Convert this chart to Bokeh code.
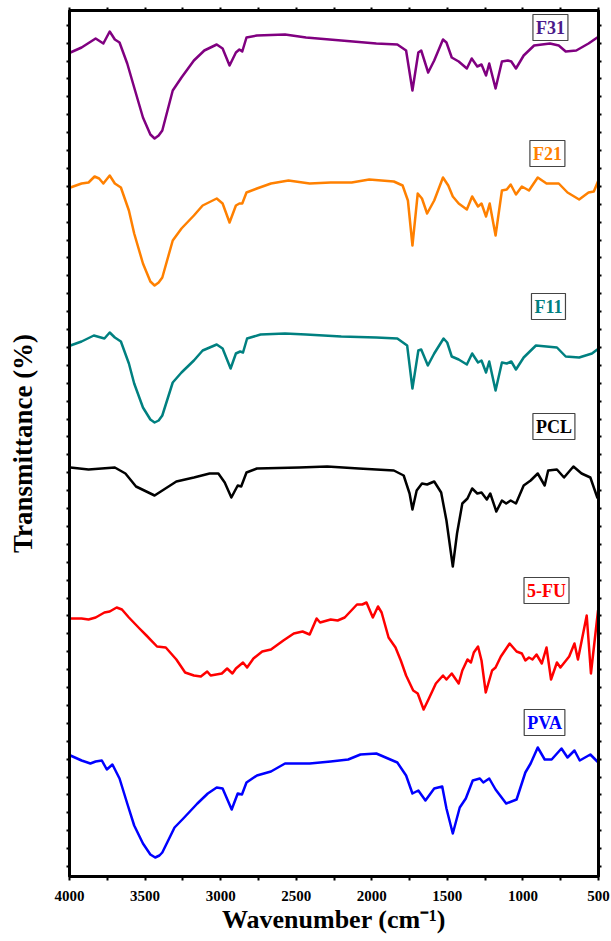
from bokeh.plotting import figure
from bokeh.models import Range1d, FixedTicker, LinearAxis, Label
from bokeh.embed import file_html
from bokeh.resources import INLINE

# FTIR spectra, stacked with vertical offsets (transmittance, arbitrary units)
wn_f31 = [3994, 3920, 3827, 3776, 3734, 3700, 3669, 3618, 3572, 3514, 3465, 3437, 3410, 3386,
          3317, 3259, 3177, 3108, 3026, 2987, 2941, 2899, 2876, 2857, 2829, 2760, 2574, 2435,
          2202, 1970, 1831, 1773, 1731, 1692, 1673, 1627, 1587, 1529, 1506, 1471, 1425, 1371,
          1339, 1302, 1274, 1244, 1223, 1181, 1139, 1100, 1077, 1046, 995, 926, 821, 763, 717,
          647, 566, 508]
t_f31 = [824, 829, 838, 833, 845, 837, 834, 813, 789, 759, 742, 738, 741, 746,
         786, 799, 816, 826, 832, 828, 811, 824, 827, 825, 839, 841, 842, 839,
         836, 833, 832, 826, 786, 824, 826, 804, 816, 837, 834, 819, 815, 808,
         818, 810, 812, 801, 813, 788, 815, 816, 815, 808, 821, 831, 833, 831, 825,
         826, 833, 839]

wn_f21 = [3994, 3920, 3874, 3834, 3804, 3776, 3734, 3700, 3660, 3607, 3572, 3514, 3465, 3437,
          3410, 3386, 3317, 3259, 3177, 3119, 3026, 2987, 2941, 2899, 2876, 2857, 2829, 2760,
          2667, 2551, 2411, 2272, 2133, 2017, 1854, 1796, 1761, 1731, 1696, 1668, 1634, 1587,
          1529, 1494, 1464, 1425, 1371, 1336, 1297, 1274, 1244, 1220, 1181, 1139, 1107, 1081,
          1046, 1007, 960, 902, 844, 763, 705, 628, 566, 531, 501]
t_f21 = [689, 693, 694, 700, 698, 693, 701, 693, 689, 666, 643, 613, 595, 591,
         594, 599, 636, 648, 661, 671, 678, 673, 654, 671, 673, 673, 684, 688,
         693, 696, 693, 694, 694, 697, 695, 691, 676, 631, 683, 678, 663, 676,
         699, 691, 680, 673, 667, 680, 670, 673, 660, 673, 641, 686, 687, 692,
         682, 690, 686, 699, 693, 693, 684, 677, 684, 685, 696]

wn_f11 = [3994, 3920, 3839, 3769, 3734, 3700, 3660, 3607, 3572, 3514, 3465, 3437, 3410, 3386,
          3317, 3259, 3177, 3119, 3026, 2987, 2934, 2899, 2871, 2852, 2825, 2736, 2574, 2435,
          2202, 1970, 1831, 1766, 1731, 1692, 1673, 1629, 1587, 1525, 1501, 1471, 1425, 1371,
          1336, 1297, 1274, 1244, 1223, 1181, 1139, 1107, 1077, 1046, 995, 914, 775, 717, 628,
          543, 508]
t_f11 = [531, 535, 541, 538, 544, 539, 535, 513, 493, 469, 457, 454, 456, 461,
         494, 504, 516, 526, 532, 528, 508, 523, 525, 524, 538, 542, 543, 542,
         540, 539, 538, 531, 488, 526, 527, 511, 523, 538, 534, 520, 517, 512,
         523, 514, 516, 504, 515, 486, 514, 513, 515, 507, 519, 531, 529, 520, 519,
         523, 527]

wn_pcl = [3994, 3874, 3700, 3630, 3560, 3437, 3293, 3177, 3073, 3015, 2973, 2929, 2887, 2864,
          2829, 2760, 2481, 2295, 2086, 1854, 1789, 1750, 1731, 1703, 1668, 1634, 1587, 1541,
          1506, 1464, 1436, 1401, 1367, 1336, 1302, 1274, 1239, 1216, 1176, 1139, 1111, 1081,
          1046, 995, 949, 902, 856, 833, 775, 728, 666, 612, 554, 508]
t_pcl = [409, 407, 409, 403, 390, 381, 395, 399, 403, 403, 394, 379, 391, 390,
         404, 408, 409, 410, 408, 406, 401, 383, 367, 386, 393, 392, 395, 384,
         356, 310, 343, 373, 378, 388, 383, 384, 377, 383, 365, 376, 373, 376,
         373, 391, 396, 403, 391, 406, 407, 399, 410, 403, 399, 379]

wn_5fu = [3994, 3920, 3874, 3827, 3769, 3734, 3688, 3653, 3607, 3537, 3491, 3421, 3363, 3293,
          3235, 3177, 3131, 3089, 3066, 2992, 2957, 2922, 2899, 2852, 2825, 2783, 2725, 2667,
          2585, 2516, 2458, 2411, 2365, 2342, 2272, 2226, 2179, 2098, 2063, 2035, 1993, 1959,
          1935, 1889, 1843, 1808, 1773, 1726, 1696, 1657, 1622, 1576, 1529, 1506, 1471, 1425,
          1401, 1367, 1344, 1325, 1297, 1274, 1246, 1204, 1181, 1146, 1088, 1042, 1007, 984,
          960, 937, 910, 875, 844, 814, 775, 752, 694, 659, 636, 578, 550, 503]
t_5fu = [258, 258, 257, 259, 264, 265, 269, 267, 259, 248, 241, 230, 229, 217,
         204, 201, 200, 205, 201, 203, 208, 203, 208, 214, 209, 218, 225, 227,
         236, 243, 245, 242, 258, 254, 257, 256, 259, 272, 272, 274, 259, 270,
         264, 239, 229, 216, 201, 186, 183, 167, 178, 193, 201, 197, 203, 193,
         206, 217, 214, 224, 230, 216, 184, 206, 209, 220, 233, 225, 223, 216,
         219, 217, 222, 213, 229, 197, 214, 209, 220, 233, 217, 261, 203, 266]

wn_pva = [3994, 3920, 3862, 3827, 3786, 3753, 3716, 3669, 3618, 3572, 3514, 3465, 3433, 3405,
          3386, 3305, 3247, 3154, 3085, 3026, 2987, 2927, 2887, 2859, 2829, 2760, 2667, 2574,
          2458, 2411, 2272, 2156, 2075, 1970, 1831, 1773, 1731, 1692, 1645, 1587, 1534, 1506,
          1464, 1418, 1378, 1332, 1285, 1262, 1223, 1181, 1111, 1042, 984, 949, 902, 856, 810,
          745, 705, 659, 624, 554, 508]
t_pva = [121, 116, 113, 115, 116, 107, 112, 98, 73, 51, 33, 22, 19, 21,
         24, 49, 58, 73, 83, 89, 88, 67, 83, 82, 94, 101, 105, 113,
         113, 113, 115, 117, 122, 123, 114, 101, 83, 86, 76, 88, 90, 68,
         43, 69, 78, 96, 98, 94, 98, 87, 73, 77, 104, 113, 129, 117, 117,
         128, 119, 126, 116, 122, 115]

names = ["F31", "F21", "F11", "PCL", "5-FU", "PVA"]
line_colors = ["#800080", "#FF8000", "#008080", "#000000", "#FF0000", "#0000FF"]
text_colors = ["#4B1A8A", "#FF8000", "#008080", "#000000", "#FF0000", "#0000FF"]
label_wn = [818, 838, 831, 795, 844, 857]
label_t = [849, 723, 570, 450, 286, 154]

x_major = [4000, 3500, 3000, 2500, 2000, 1500, 1000, 500]
x_minor = [3750, 3250, 2750, 2250, 1750, 1250, 750]

SERIF = "Liberation Serif"

p = figure(width=611, height=941, x_range=Range1d(4000, 500), y_range=Range1d(0, 866),
           output_backend="svg", toolbar_location=None,
           min_border_left=69, min_border_right=13, min_border_top=10, min_border_bottom=65)
p.background_fill_color = "white"
p.border_fill_color = "white"
p.grid.visible = False
p.outline_line_color = "black"
p.outline_line_width = 3

x_ticker = FixedTicker(ticks=x_major, minor_ticks=x_minor)
y_ticker = FixedTicker(ticks=[851.3 - 17.9 * k for k in range(48)])

# bottom axis
xa = p.xaxis[0]
xa.ticker = x_ticker
xa.axis_line_width = 3
xa.major_tick_in = 0
xa.major_tick_out = 4
xa.minor_tick_in = 0
xa.minor_tick_out = 4
xa.major_tick_line_width = 2
xa.minor_tick_line_width = 2
xa.major_label_standoff = 10
xa.major_label_text_font = SERIF
xa.major_label_text_font_style = "bold"
xa.major_label_text_font_size = "15px"
xa.major_label_text_color = "black"
xa.axis_label = "Wavenumber (cm⁻¹)"
xa.axis_label_text_font = SERIF
xa.axis_label_text_font_style = "bold"
xa.axis_label_text_font_size = "26px"
xa.axis_label_text_color = "black"
xa.axis_label_standoff = 1

# left axis: ticks without numbers
ya = p.yaxis[0]
ya.ticker = y_ticker
ya.axis_line_width = 3
ya.major_tick_in = 0
ya.major_tick_out = 3
ya.minor_tick_line_color = None
ya.major_tick_line_width = 2
ya.major_label_text_font_size = "0px"
ya.major_label_text_color = None
ya.major_label_standoff = 0
ya.axis_label = "Transmittance (%)"
ya.axis_label_text_font = SERIF
ya.axis_label_text_font_style = "bold"
ya.axis_label_text_font_size = "27px"
ya.axis_label_text_color = "black"
ya.axis_label_standoff = 29

# top and right axes: ticks only
top = LinearAxis(ticker=x_ticker, axis_line_width=3, major_tick_in=0, major_tick_out=3,
                 minor_tick_in=0, minor_tick_out=3, major_tick_line_width=2,
                 minor_tick_line_width=2, major_label_text_font_size="0px",
                 major_label_text_color=None, major_label_standoff=0)
p.add_layout(top, "above")
right = LinearAxis(ticker=y_ticker, axis_line_width=3, major_tick_in=0, major_tick_out=3,
                   minor_tick_line_color=None, major_tick_line_width=2,
                   major_label_text_font_size="0px", major_label_text_color=None,
                   major_label_standoff=0)
p.add_layout(right, "right")

series = [(wn_f31, t_f31), (wn_f21, t_f21), (wn_f11, t_f11),
          (wn_pcl, t_pcl), (wn_5fu, t_5fu), (wn_pva, t_pva)]
for (xs, ys), c in zip(series, line_colors):
    p.line(xs, ys, line_color=c, line_width=2.5, line_join="round", line_cap="round")

for name, tc, lx, ly in zip(names, text_colors, label_wn, label_t):
    p.add_layout(Label(x=lx, y=ly, text=name, text_align="center", text_baseline="middle",
                       text_font=SERIF, text_font_style="bold", text_font_size="18px",
                       text_color=tc, border_line_color="#444444", border_line_width=1.2,
                       background_fill_color="white", padding=3))

open("out.html", "w").write(file_html(p, INLINE))
